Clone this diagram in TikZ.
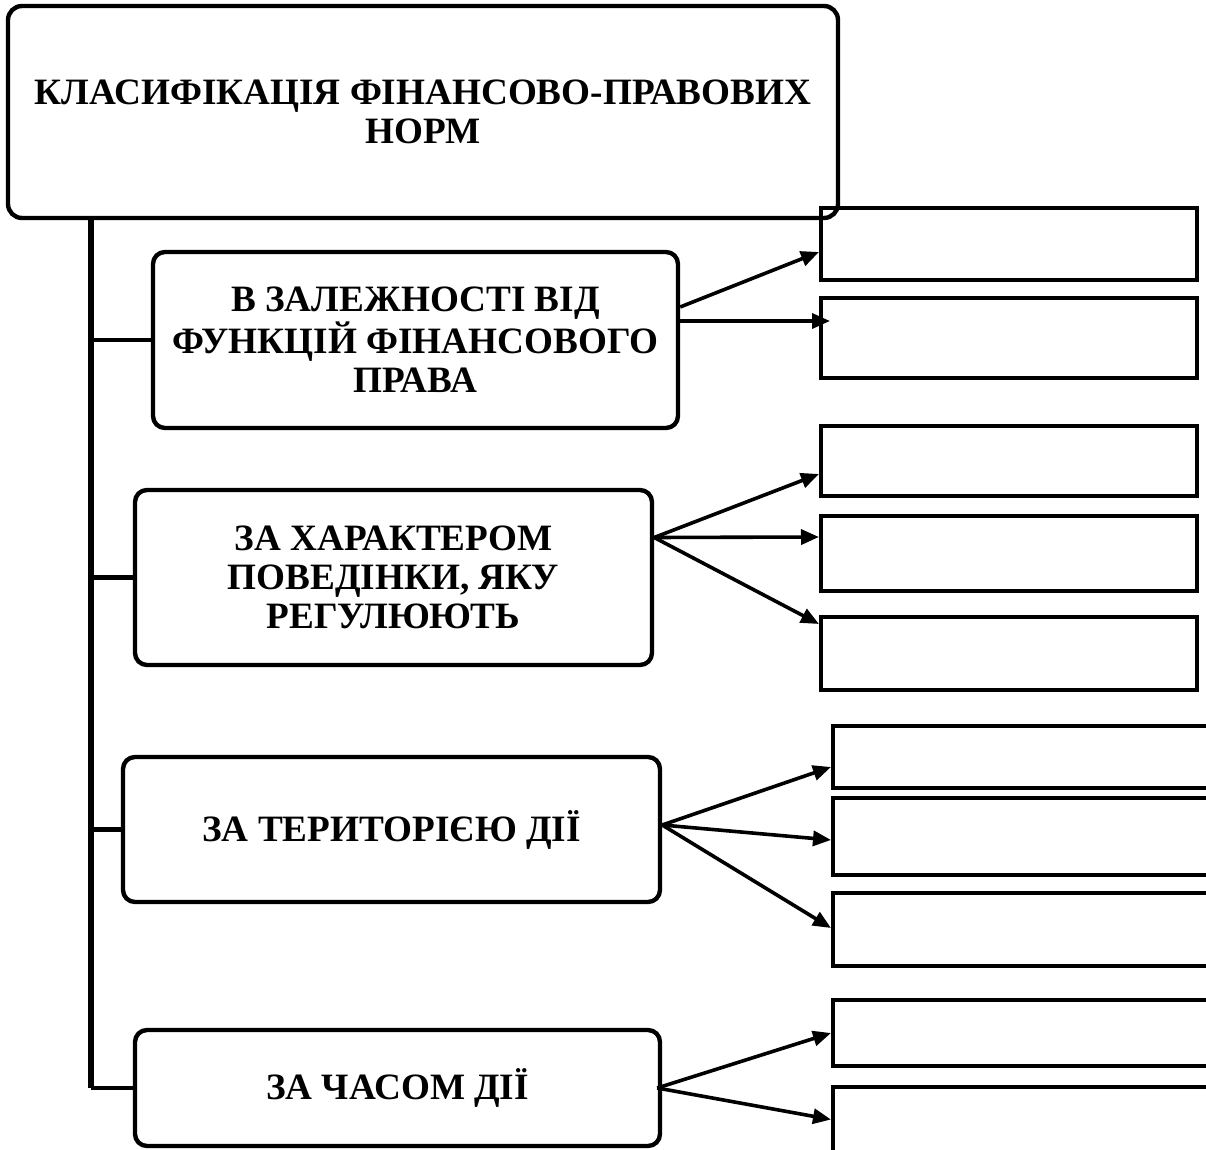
\documentclass[tikz,border=0pt]{standalone}
\usepackage{fontspec}
\setmainfont{Liberation Serif}
\usetikzlibrary{arrows.meta,positioning}

\begin{document}
\begin{tikzpicture}[x=0.5pt,y=-0.5pt,>=Triangle,
main box/.style={draw,line width=2.2pt,rounded corners=7pt,minimum width=415pt,minimum height=106pt,align=center,inner sep=0pt,font=\fontsize{18.6}{18}\selectfont\bfseries},
class box/.style 2 args={draw,line width=2.2pt,rounded corners=6pt,minimum width=#1,minimum height=#2,align=center,inner sep=0pt,font=\fontsize{18.6}{19.5}\selectfont\bfseries},
leaf box/.style={draw,line width=2pt,minimum width=188pt,minimum height=#1,inner sep=0pt},
flow/.style={-{Triangle[length=9pt,width=7.5pt]},line width=1.8pt},
trunk/.style={line width=3pt},
branch/.style={line width=2.2pt}]
\useasboundingbox (0,0) rectangle (1206,1150);
\node[leaf box=36pt] (func a) at (1009,244) {};
\node[leaf box=40pt] (func b) at (1009,338) {};
\node[leaf box=35pt] (behav a) at (1009,461) {};
\node[leaf box=37.5pt] (behav b) at (1009,553.5) {};
\node[leaf box=36.5pt] (behav c) at (1009,653.5) {};
\node[leaf box=31pt,minimum width=189.5pt] (terr a) at (1022.5,757) {};
\node[leaf box=38.5pt,minimum width=189.5pt] (terr b) at (1022.5,836.5) {};
\node[leaf box=36.5pt,minimum width=189.5pt] (terr c) at (1022.5,929.5) {};
\node[leaf box=33pt,minimum width=189.5pt] (time a) at (1022.5,1033) {};
\node[leaf box=32.5pt,minimum width=189.5pt] (time b) at (1022.5,1119.5) {};
\node[main box] (root) at (423,112) {\raisebox{-7pt}{\shortstack{КЛАСИФІКАЦІЯ ФІНАНСОВО-ПРАВОВИХ\\НОРМ}}};
\node[class box={262.5pt}{88pt}] (func) at (415.5,340) {В ЗАЛЕЖНОСТІ ВІД\\ФУНКЦІЙ ФІНАНСОВОГО\\ПРАВА};
\node[class box={258.5pt}{87.5pt}] (behav) at (393.5,577.5) {ЗА ХАРАКТЕРОМ\\ПОВЕДІНКИ, ЯКУ\\РЕГУЛЮЮТЬ};
\node[class box={268.5pt}{72.5pt}] (terr) at (391.5,829.5) {ЗА ТЕРИТОРІЄЮ ДІЇ};
\node[class box={262.5pt}{58pt}] (time) at (397.5,1088) {ЗА ЧАСОМ ДІЇ};
\coordinate (top) at ([xshift=42.5pt]root.south west);
\draw[trunk] (top) -- (top |- time.west);
\foreach \n in {func,behav,terr,time}
  \draw[branch] (top |- \n.west) -- (\n.west);
\draw[flow] ([yshift=16.5pt]func.east) -- ([yshift=-4pt]func a.west);
\draw[flow] ([yshift=9.5pt]func.east) -- ([xshift=5.5pt,yshift=8.5pt]func b.west);
\foreach \s/\e in {a/-6.5pt,b/8.25pt,c/14.75pt}
  \draw[flow] ([yshift=20pt]behav.east) -- ([yshift=\e]behav \s.west);
\foreach \s/\e in {a/-5pt,b/-1.75pt,c/0.75pt}
  \draw[flow] ([yshift=2.25pt]terr.east) -- ([yshift=\e]terr \s.west);
\foreach \s in {a,b}
  \draw[flow] ([xshift=-2.5pt]time.east) -- (time \s.west);
\end{tikzpicture}
\end{document}
